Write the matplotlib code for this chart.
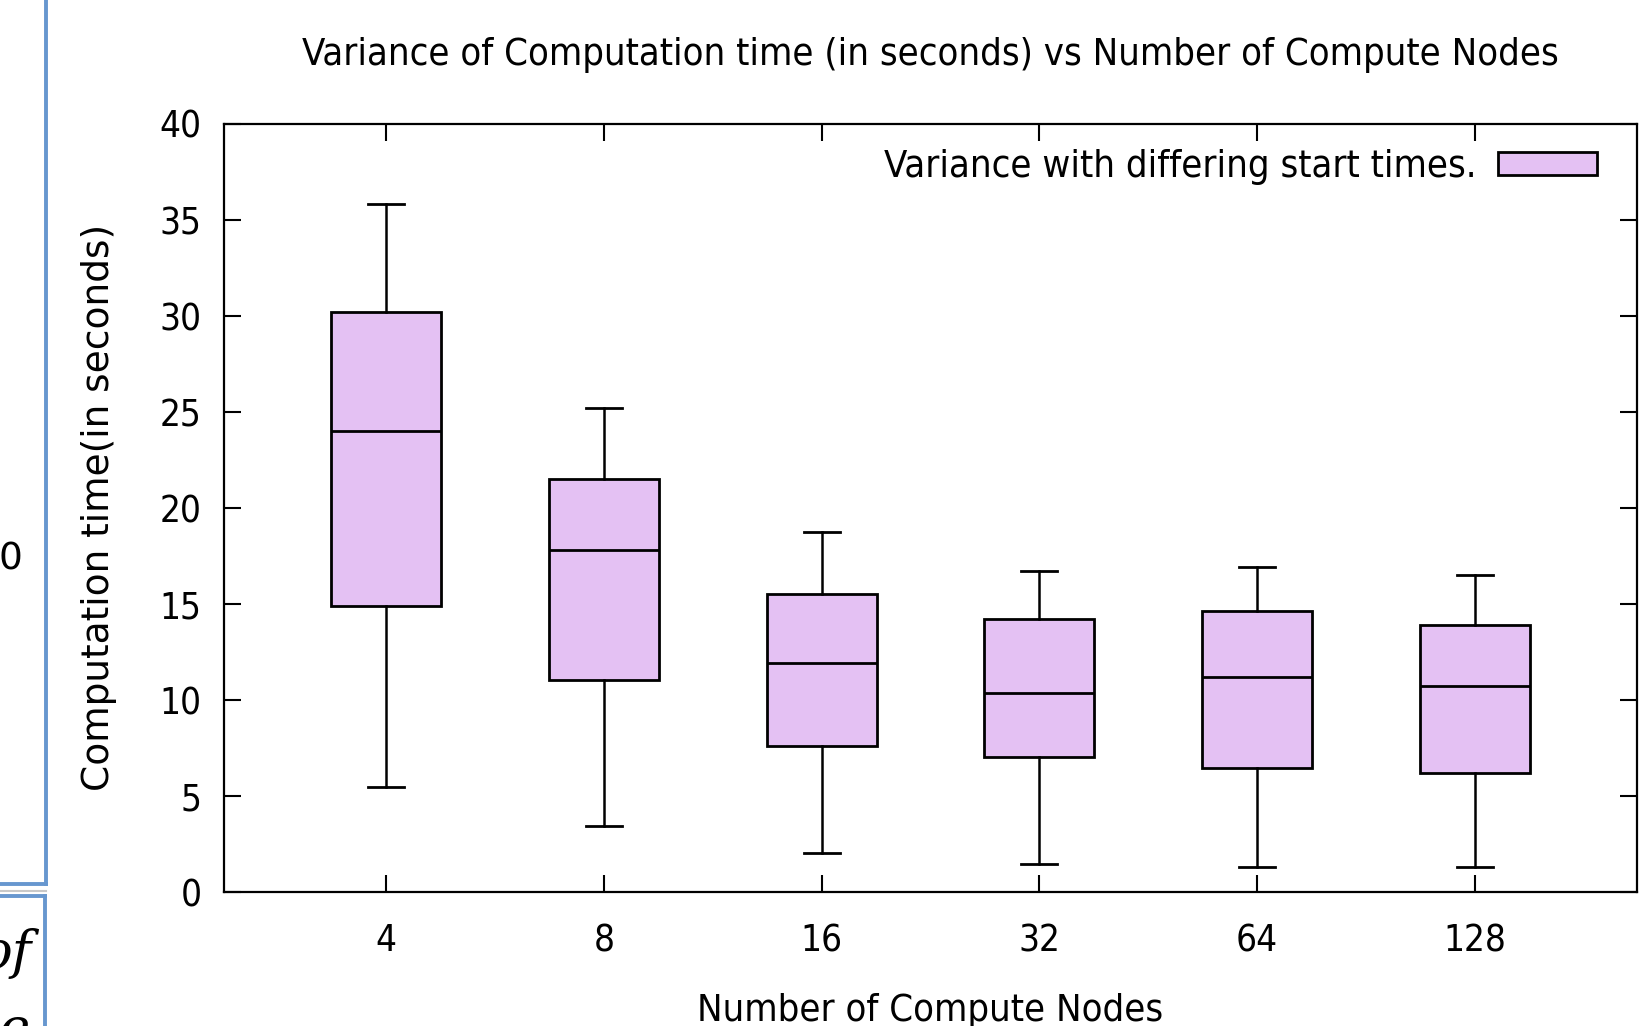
import matplotlib
matplotlib.use("Agg")
import matplotlib.pyplot as plt
from matplotlib.patches import Patch
from matplotlib.lines import Line2D

# ---- data ----
nodes = ['4', '8', '16', '32', '64', '128']
whisker_low = [5.45, 3.43, 2.0, 1.42, 1.3, 1.3]
q1 = [14.9, 11.0, 7.57, 7.03, 6.43, 6.16]
median = [24.0, 17.8, 11.9, 10.35, 11.17, 10.7]
q3 = [30.2, 21.5, 15.5, 14.2, 14.6, 13.9]
whisker_high = [35.8, 25.2, 18.75, 16.7, 16.9, 16.5]
y_ticks = [0, 5, 10, 15, 20, 25, 30, 35, 40]

title = "Variance of Computation time (in seconds) vs Number of Compute Nodes"
xlabel = "Number of Compute Nodes"
ylabel = "Computation time(in seconds)"
legend_label = "Variance with differing start times."

FILL = '#e4c1f3'
W, H = 1641, 1026
plt.rcParams['font.family'] = ['DejaVu Sans']
plt.rcParams['font.stretch'] = 'condensed'
FS = 27.4
FS_TICK = 26.5

fig = plt.figure(figsize=(W / 100, H / 100), dpi=100)
left, right, top, bottom = 224, 1637, 123.5, 891.7
ax = fig.add_axes([left / W, 1 - bottom / H, (right - left) / W, (bottom - top) / H])

stats = []
for i in range(len(nodes)):
    stats.append(dict(whislo=whisker_low[i], q1=q1[i], med=median[i],
                      q3=q3[i], whishi=whisker_high[i], fliers=[], label=nodes[i]))
positions = list(range(1, len(nodes) + 1))
ax.bxp(stats, positions=positions, widths=0.505, capwidths=0.165,
       showfliers=False, patch_artist=True,
       boxprops=dict(facecolor=FILL, edgecolor='black', linewidth=2.0),
       medianprops=dict(color='black', linewidth=2.0),
       whiskerprops=dict(color='black', linewidth=1.8),
       capprops=dict(color='black', linewidth=2.0))

ax.set_xlim(0.255, 6.745)
ax.set_ylim(0, 40)
ax.set_yticks(y_ticks)
ax.set_xticks(positions)
ax.set_xticklabels(nodes)
for s in ax.spines.values():
    s.set_linewidth(1.6)
ax.tick_params(axis='both', direction='in', length=12, width=1.5,
               labelsize=FS_TICK, top=True, right=True)
ax.tick_params(axis='y', pad=16)
ax.tick_params(axis='x', pad=22)

ax.set_title(title, fontsize=FS, y=(bottom - 55) / (bottom - top), va='center', pad=0)
ax.set_xlabel(xlabel, fontsize=FS)
ax.xaxis.set_label_coords(0.5, (bottom - 1011) / (bottom - top))
ax.xaxis.label.set_va('center')
ax.set_ylabel(ylabel, fontsize=27, fontstretch='normal')
ax.yaxis.set_label_coords((99 - left) / (right - left), 0.5)
ax.yaxis.label.set_va('center')

handle = Patch(facecolor=FILL, edgecolor='black', linewidth=2.0)
fs_px = FS * 100 / 72
ax.legend([handle], [legend_label], loc='center right',
          bbox_to_anchor=(1597 / W, 1 - 167 / H), bbox_transform=fig.transFigure,
          frameon=False, markerfirst=False, borderpad=0, borderaxespad=0,
          fontsize=FS, handlelength=99 / fs_px, handleheight=21 / fs_px,
          handletextpad=22 / fs_px)

# ---- surrounding screenshot fragments on the left edge ----
blue = '#6797cf'
fig.add_artist(Line2D([45.5 / W, 45.5 / W], [1, 1 - 884 / H], color=blue, lw=2.8, transform=fig.transFigure))
fig.add_artist(Line2D([0, 45.5 / W], [1 - 884 / H, 1 - 884 / H], color=blue, lw=2.8, transform=fig.transFigure))
fig.add_artist(Line2D([0, 46 / W], [1 - 891 / H, 1 - 891 / H], color='#c8c8c8', lw=1.5, transform=fig.transFigure))
fig.add_artist(Line2D([0, 44.5 / W], [1 - 896 / H, 1 - 896 / H], color=blue, lw=2.8, transform=fig.transFigure))
fig.add_artist(Line2D([44.5 / W, 44.5 / W], [1 - 896 / H, 0], color=blue, lw=2.8, transform=fig.transFigure))
fig.text(10 / W, 1 - 560 / H, "0", fontsize=27, ha='center', va='center', family='DejaVu Sans', stretch='normal')
fig.text(32 / W, 1 - 968 / H, "of", fontsize=38, ha='right', va='baseline', family='DejaVu Serif', style='italic', stretch='normal')
fig.text(14 / W, 1 - 1045 / H, "e", fontsize=38, ha='center', va='baseline', family='DejaVu Serif', style='italic', stretch='normal')

fig.savefig("out.png", dpi=100)
